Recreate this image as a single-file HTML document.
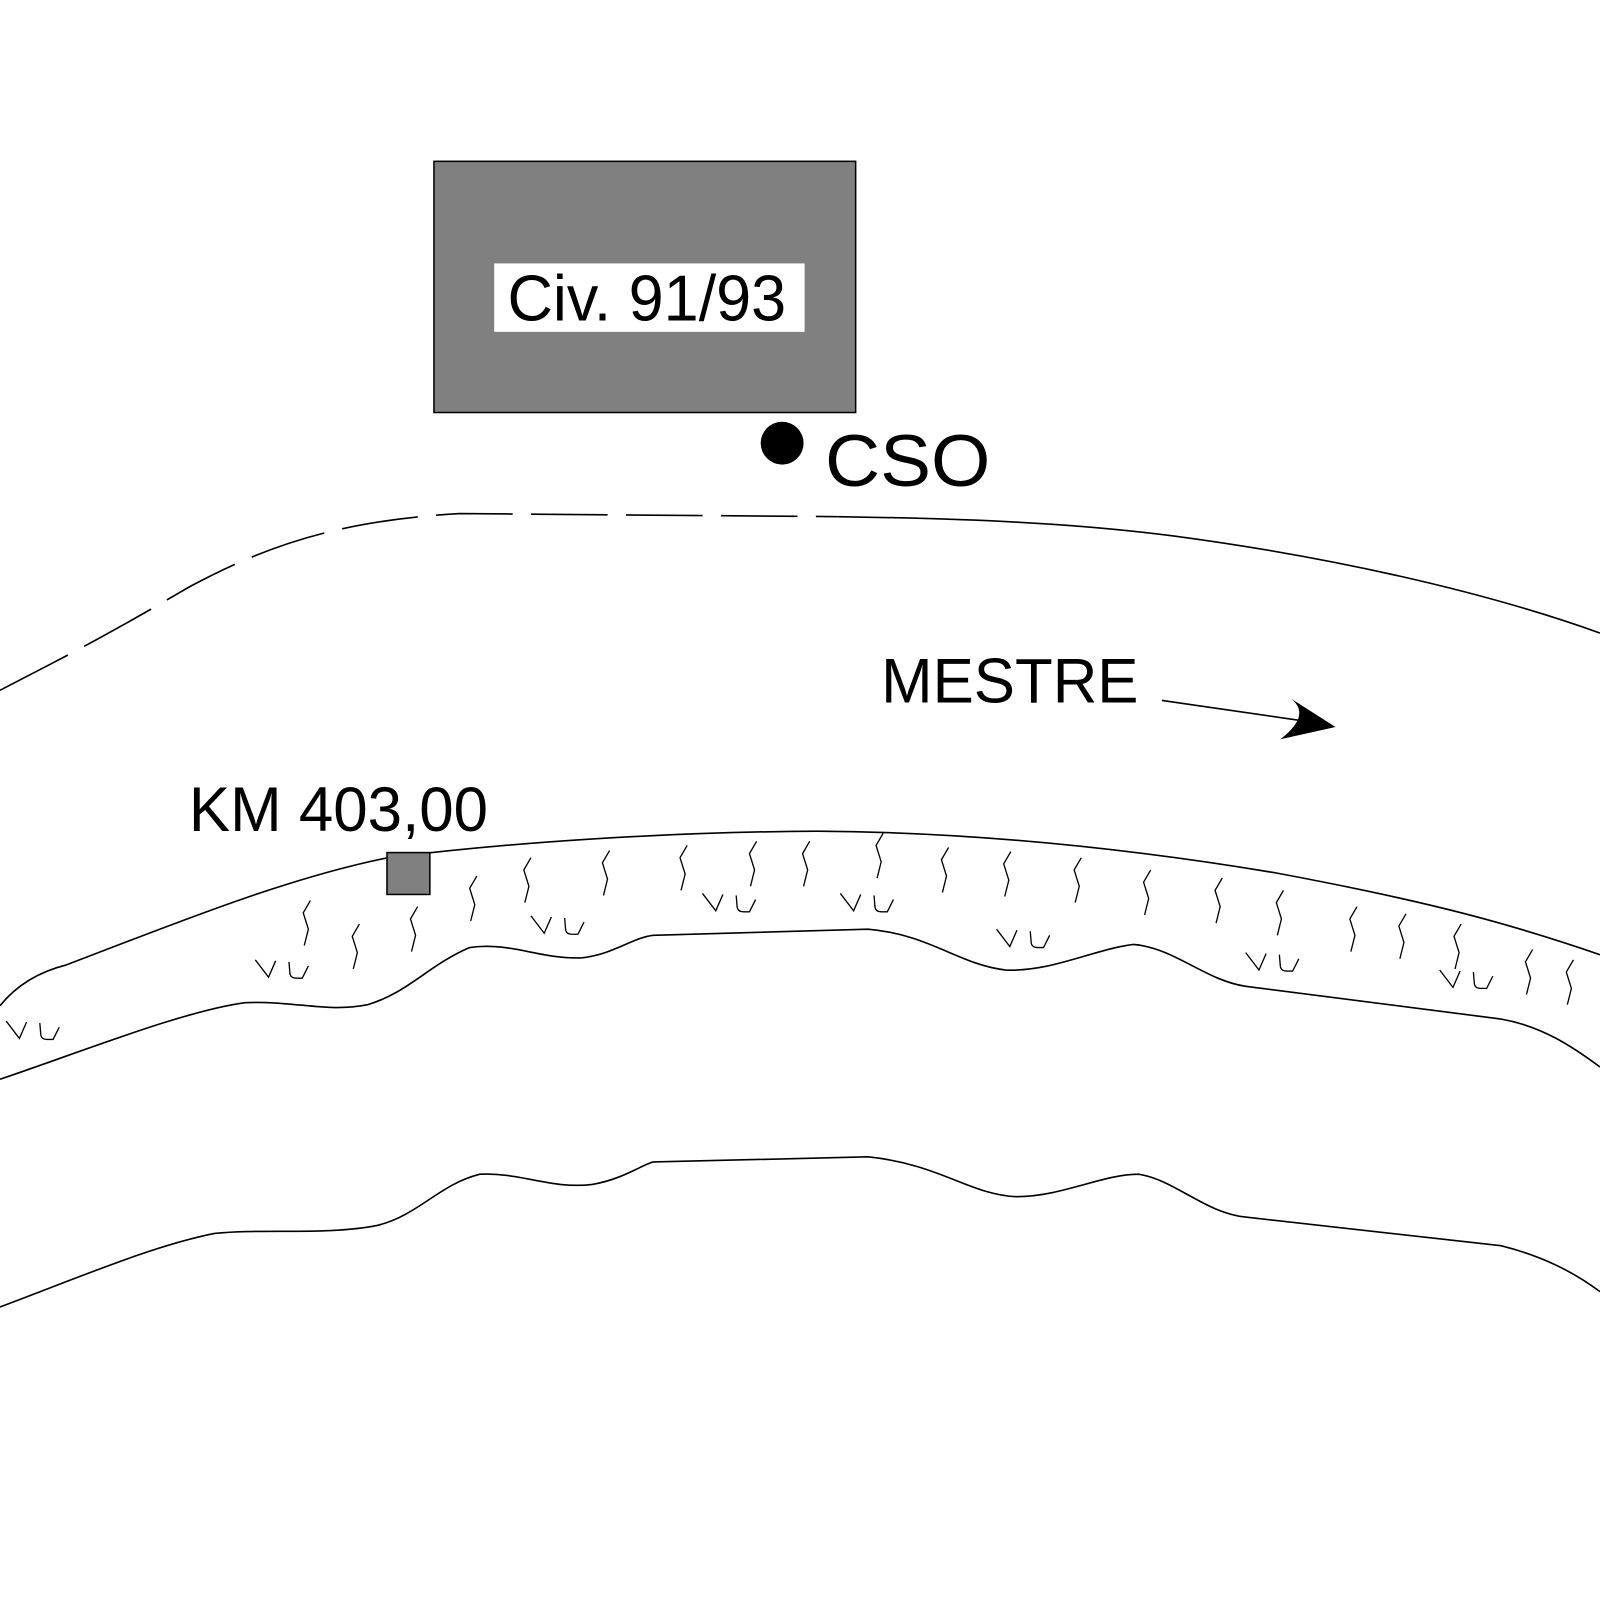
<!DOCTYPE html>
<html><head><style>html,body{margin:0;padding:0;background:#fff}svg{display:block}</style></head><body>
<svg width="1600" height="1600" viewBox="0 0 1567 1567" xmlns="http://www.w3.org/2000/svg" font-family="Liberation Sans, sans-serif">
<defs>
<path id="s" d="M7,0 L0,12 L5,28 L1,44"/>
<path id="vu" d="M0,0 L13,17 L20,1 M33,2 L34,14 Q35,18 40,18 L46,18 L52,6"/>
</defs>
<rect width="1567" height="1567" fill="#fff"/>
<g fill="none" stroke="#000" stroke-width="1.6">
<path d="M0,676 C60,645 100,625 185,575 C260,535 330,510 450,503 L820,506" stroke-dasharray="75,18"/>
<path d="M820,506 C950,508 1050,512 1150,525 C1300,545 1450,578 1567,620"/>
<path d="M0,985 C20,960 45,950 65,945 C170,905 280,860 380,840 C500,825 650,815 800,814 C950,815 1100,830 1250,855 C1400,883 1480,905 1567,935"/>
<path d="M0,1057 C80,1030 180,990 240,982 C290,980 320,992 360,984 C400,972 420,945 460,928 C500,922 530,940 570,938 C600,935 620,918 640,916 L850,910 C910,915 940,945 985,950 C1030,952 1070,930 1110,925 C1150,928 1180,960 1220,966 L1470,998 C1510,1005 1540,1025 1567,1045"/>
<path d="M0,1280 C80,1250 150,1220 210,1208 C260,1203 320,1210 370,1200 C410,1190 430,1160 470,1150 C510,1148 540,1165 580,1160 C610,1155 630,1140 640,1138 L850,1133 C920,1140 950,1170 995,1172 C1040,1172 1080,1150 1115,1150 C1150,1155 1180,1188 1220,1192 L1470,1220 C1510,1230 1540,1245 1567,1265"/>
</g>
<g fill="none" stroke="#000" stroke-width="1.3">
<use href="#s" x="297" y="882"/><use href="#s" x="345" y="905"/><use href="#s" x="402" y="888"/>
<use href="#s" x="460" y="858"/><use href="#s" x="513" y="840"/><use href="#s" x="590" y="833"/>
<use href="#s" x="666" y="828"/><use href="#s" x="734" y="824"/><use href="#s" x="786" y="824"/>
<use href="#s" x="858" y="816"/><use href="#s" x="922" y="830"/><use href="#s" x="983" y="834"/>
<use href="#s" x="1052" y="840"/><use href="#s" x="1120" y="852"/><use href="#s" x="1190" y="860"/>
<use href="#s" x="1250" y="872"/><use href="#s" x="1322" y="888"/><use href="#s" x="1370" y="895"/>
<use href="#s" x="1424" y="905"/><use href="#s" x="1494" y="930"/><use href="#s" x="1534" y="940"/>
<use href="#vu" x="250" y="940"/><use href="#vu" x="520" y="897"/><use href="#vu" x="688" y="875"/>
<use href="#vu" x="823" y="875"/><use href="#vu" x="976" y="910"/><use href="#vu" x="1220" y="933"/>
<use href="#vu" x="1410" y="950"/><use href="#vu" x="6" y="1000"/>
</g>
<rect x="425" y="158" width="413" height="246" fill="#808080" stroke="#000" stroke-width="1.5"/>
<rect x="484" y="258" width="304" height="67" fill="#fff"/>
<text x="497" y="314" font-size="64" textLength="273" lengthAdjust="spacingAndGlyphs">Civ. 91/93</text>
<circle cx="766" cy="434" r="21" fill="#000"/>
<text x="808" y="476" font-size="72" textLength="162" lengthAdjust="spacingAndGlyphs">CSO</text>
<text x="863" y="688" font-size="62" textLength="252" lengthAdjust="spacingAndGlyphs">MESTRE</text>
<path d="M1138,686 L1290,708" stroke="#000" stroke-width="1.6"/>
<path d="M1264,684 Q1285,700 1254,724 L1308,712 Z" fill="#000"/>
<text x="185" y="814" font-size="62" textLength="293" lengthAdjust="spacingAndGlyphs">KM 403,00</text>
<rect x="379" y="835" width="42" height="41" fill="#808080" stroke="#000" stroke-width="1.5"/>
</svg>
</body></html>
